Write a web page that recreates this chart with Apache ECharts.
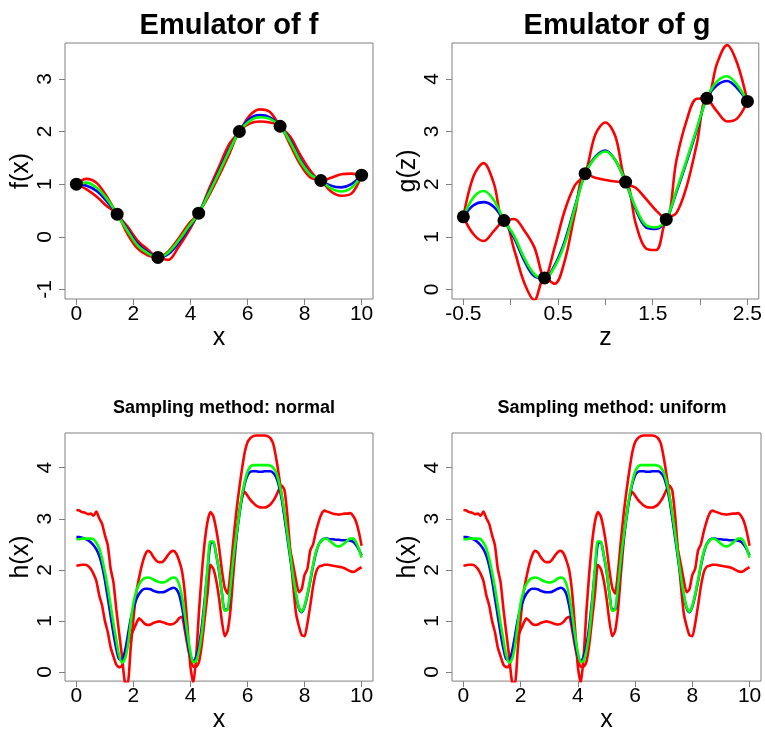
<!DOCTYPE html>
<html>
<head>
<meta charset="utf-8">
<script src="https://cdn.jsdelivr.net/npm/echarts@6/dist/echarts.min.js"></script>
<style>
  html, body { margin: 0; padding: 0; background: #fff; }
  #chart { width: 765px; height: 734px; }
</style>
</head>
<body>
<div id="chart"></div>
<script>
// ---- Emulator of f ----
const fX = [0, 0.357, 0.714, 1.071, 1.429, 1.786, 2.143, 2.5, 2.857, 3.214, 3.571, 3.929, 4.286, 4.643, 5, 5.357, 5.714, 6.071, 6.429, 6.786, 7.143, 7.5, 7.857, 8.214, 8.571, 8.929, 9.286, 9.643, 10];
const fTrue  = [1.00, 1.03, 0.93, 0.72, 0.43, 0.12, -0.16, -0.31, -0.39, -0.30, -0.08, 0.19, 0.45, 0.82, 1.22, 1.63, 2.00, 2.20, 2.27, 2.24, 2.10, 1.80, 1.43, 1.18, 1.07, 0.92, 0.86, 0.93, 1.17];
const fMean  = [1.00, 0.97, 0.87, 0.67, 0.43, 0.15, -0.13, -0.29, -0.39, -0.33, -0.12, 0.16, 0.45, 0.84, 1.25, 1.66, 2.00, 2.24, 2.31, 2.27, 2.10, 1.83, 1.46, 1.19, 1.07, 0.97, 0.94, 1.00, 1.17];
const fUpper = [1.00, 1.10, 1.02, 0.76, 0.43, 0.20, -0.07, -0.24, -0.39, -0.28, -0.04, 0.24, 0.45, 0.90, 1.33, 1.76, 2.00, 2.30, 2.42, 2.37, 2.10, 1.90, 1.55, 1.25, 1.07, 1.12, 1.19, 1.20, 1.17];
const fLower = [1.00, 0.90, 0.76, 0.58, 0.43, 0.06, -0.22, -0.35, -0.39, -0.44, -0.20, 0.10, 0.45, 0.78, 1.16, 1.57, 2.00, 2.15, 2.19, 2.17, 2.10, 1.74, 1.37, 1.12, 1.07, 0.86, 0.78, 0.82, 1.17];
const fRunsX = [0, 1.429, 2.857, 4.286, 5.714, 7.143, 8.571, 10];
const fRunsY = [1.00, 0.43, -0.39, 0.45, 2.00, 2.10, 1.07, 1.17];

// ---- Emulator of g ----
const gZ = [-0.5, -0.393, -0.286, -0.179, -0.071, 0.036, 0.143, 0.25, 0.357, 0.464, 0.571, 0.679, 0.786, 0.893, 1, 1.107, 1.214, 1.321, 1.429, 1.536, 1.643, 1.75, 1.857, 1.964, 2.071, 2.179, 2.286, 2.393, 2.5];
const gTrue  = [1.38, 1.75, 1.87, 1.70, 1.31, 1.02, 0.60, 0.29, 0.20, 0.43, 0.87, 1.55, 2.20, 2.50, 2.62, 2.45, 2.04, 1.55, 1.22, 1.18, 1.33, 1.88, 2.45, 3.05, 3.63, 3.95, 4.05, 3.88, 3.57];
const gMean  = [1.38, 1.60, 1.66, 1.57, 1.31, 0.98, 0.55, 0.25, 0.21, 0.46, 0.92, 1.58, 2.20, 2.52, 2.64, 2.45, 2.04, 1.52, 1.18, 1.15, 1.33, 1.85, 2.42, 3.02, 3.63, 3.88, 3.96, 3.82, 3.57];
const gUpper = [1.38, 2.15, 2.40, 2.02, 1.31, 1.34, 1.12, 0.80, 0.22, 0.80, 1.50, 1.98, 2.20, 2.94, 3.17, 2.90, 2.04, 1.93, 1.72, 1.50, 1.33, 2.45, 3.20, 3.62, 3.63, 4.29, 4.64, 4.29, 3.57];
const gLower = [1.38, 1.05, 0.92, 1.11, 1.31, 0.76, 0.13, -0.20, 0.22, 0.11, 0.55, 1.45, 2.20, 2.12, 2.08, 2.05, 2.04, 1.25, 0.78, 0.75, 1.33, 1.45, 1.95, 2.75, 3.63, 3.38, 3.19, 3.25, 3.57];
const gRunsZ = [-0.5, -0.071, 0.357, 0.786, 1.214, 1.643, 2.071, 2.5];
const gRunsY = [1.38, 1.31, 0.22, 2.20, 2.04, 1.33, 3.63, 3.57];

// ---- Composite h(x) = g(f(x)), Monte Carlo summary ----
const hX = [0, 0.1, 0.2, 0.3, 0.4, 0.5, 0.6, 0.7, 0.8, 0.9,
            1, 1.1, 1.2, 1.3, 1.4, 1.5, 1.6, 1.7, 1.8, 1.9,
            2, 2.1, 2.2, 2.3, 2.4, 2.5, 2.6, 2.7, 2.8, 2.9,
            3, 3.1, 3.2, 3.3, 3.4, 3.5, 3.6, 3.7, 3.8, 3.9,
            4, 4.1, 4.2, 4.3, 4.4, 4.5, 4.6, 4.7, 4.8, 4.9,
            5, 5.1, 5.2, 5.3, 5.4, 5.5, 5.6, 5.7, 5.8, 5.9,
            6, 6.1, 6.2, 6.3, 6.4, 6.5, 6.6, 6.7, 6.8, 6.9,
            7, 7.1, 7.2, 7.3, 7.4, 7.5, 7.6, 7.7, 7.8, 7.9,
            8, 8.1, 8.2, 8.3, 8.4, 8.5, 8.6, 8.7, 8.8, 8.9,
            9, 9.1, 9.2, 9.3, 9.4, 9.5, 9.6, 9.7, 9.8, 9.9, 10];
const hTrue = [2.60, 2.60, 2.61, 2.61, 2.61, 2.61, 2.60, 2.53, 2.42, 2.22,
               1.95, 1.65, 1.30, 0.95, 0.62, 0.32, 0.18, 0.25, 0.50, 0.95,
               1.35, 1.58, 1.72, 1.80, 1.84, 1.85, 1.84, 1.81, 1.78, 1.76,
               1.75, 1.76, 1.79, 1.83, 1.85, 1.83, 1.72, 1.48, 1.12, 0.72,
               0.38, 0.19, 0.22, 0.42, 0.78, 1.35, 2.05, 2.56, 2.55, 2.30,
               2.00, 1.55, 1.20, 1.22, 1.65, 2.20, 2.65, 3.05, 3.45, 3.72,
               3.92, 4.02, 4.05, 4.05, 4.05, 4.05, 4.05, 4.05, 4.04, 4.00,
               3.91, 3.72, 3.45, 3.10, 2.70, 2.28, 1.87, 1.52, 1.27, 1.18,
               1.30, 1.52, 1.80, 2.10, 2.35, 2.50, 2.57, 2.61, 2.60, 2.56,
               2.51, 2.47, 2.46, 2.48, 2.52, 2.57, 2.61, 2.61, 2.55, 2.42, 2.24];
const hMean = [2.64, 2.64, 2.63, 2.61, 2.58, 2.54, 2.48, 2.40, 2.28, 2.08,
               1.80, 1.45, 1.10, 0.75, 0.45, 0.25, 0.24, 0.40, 0.70, 1.02,
               1.25, 1.42, 1.53, 1.60, 1.63, 1.63, 1.62, 1.59, 1.57, 1.56,
               1.56, 1.57, 1.60, 1.63, 1.65, 1.62, 1.52, 1.28, 0.95, 0.60,
               0.32, 0.22, 0.30, 0.52, 0.90, 1.42, 2.00, 2.52, 2.54, 2.30,
               1.98, 1.55, 1.22, 1.22, 1.62, 2.15, 2.62, 3.02, 3.40, 3.68,
               3.85, 3.92, 3.93, 3.93, 3.92, 3.92, 3.93, 3.93, 3.93, 3.90,
               3.82, 3.65, 3.38, 3.02, 2.62, 2.22, 1.85, 1.50, 1.25, 1.17,
               1.28, 1.50, 1.78, 2.08, 2.33, 2.50, 2.58, 2.61, 2.61, 2.60,
               2.60, 2.59, 2.59, 2.58, 2.58, 2.58, 2.57, 2.55, 2.49, 2.40, 2.28];
const hBandA = [3.17, 3.16, 3.13, 3.12, 3.09, 3.10, 3.06, 3.14, 3.01, 2.90,
                2.68, 2.48, 2.02, 1.75, 1.22, 0.75, 0.30, -0.20, -0.22, 0.45,
                1.05, 1.55, 1.85, 2.10, 2.28, 2.37, 2.34, 2.25, 2.18, 2.15,
                2.15, 2.20, 2.28, 2.35, 2.37, 2.32, 2.18, 1.98, 1.55, 0.85,
                0.10, -0.22, 0.30, 1.20, 1.95, 2.55, 2.95, 3.13, 3.05, 2.80,
                2.45, 2.00, 1.65, 1.53, 1.95, 2.55, 3.10, 3.55, 3.95, 4.30,
                4.50, 4.58, 4.62, 4.63, 4.63, 4.63, 4.63, 4.62, 4.58, 4.47,
                4.20, 3.85, 3.45, 3.05, 2.70, 2.38, 2.10, 1.80, 1.56, 1.62,
                1.90, 2.02, 2.38, 2.50, 2.75, 2.95, 3.10, 3.16, 3.14, 3.12,
                3.10, 3.09, 3.08, 3.09, 3.10, 3.10, 3.11, 3.06, 2.95, 2.75, 2.47];
const hBandB = [2.08, 2.09, 2.10, 2.10, 2.08, 2.02, 1.92, 1.78, 1.50, 1.30,
                1.00, 0.78, 0.48, 0.30, 0.14, 0.09, 0.12, 0.35, 0.55, 0.70,
                0.82, 0.95, 1.05, 1.00, 0.94, 0.92, 0.93, 0.96, 0.98, 0.99,
                0.98, 0.96, 0.94, 0.93, 0.94, 0.98, 1.05, 1.08, 0.82, 0.50,
                0.25, 0.10, 0.10, 0.20, 0.55, 1.05, 1.55, 2.10, 2.02, 1.80,
                1.45, 1.00, 0.70, 0.80, 1.20, 1.90, 2.55, 3.10, 3.40, 3.53,
                3.45, 3.37, 3.31, 3.26, 3.23, 3.22, 3.22, 3.24, 3.28, 3.35,
                3.45, 3.57, 3.65, 3.55, 3.05, 2.35, 1.70, 1.15, 0.90, 0.72,
                0.70, 0.95, 1.30, 1.68, 1.95, 2.06, 2.08, 2.10, 2.10, 2.09,
                2.08, 2.07, 2.06, 2.05, 2.03, 2.00, 1.97, 1.96, 1.98, 2.02, 2.05];

const xTicks10 = [0, 2, 4, 6, 8, 10];
const zTicks = [-0.5, 0, 0.5, 1, 1.5, 2, 2.5];
const zLabels = [-0.5, 0.5, 1.5, 2.5];
const fTicks = [-1, 0, 1, 2, 3];
const hTicks = [0, 1, 2, 3, 4];

const FONT = '"Liberation Sans", Arial, Helvetica, sans-serif';
const RED = '#ff0000', BLUE = '#0000ff', GREEN = '#00ff00';

const zip = (xs, ys) => xs.map((x, i) => [x, ys[i]]);

const grids = [
  { left: 65,  top: 43,  width: 308, height: 256 },
  { left: 452, top: 43,  width: 310, height: 256 },
  { left: 65,  top: 433, width: 308, height: 257 },
  { left: 452, top: 433, width: 309, height: 257 }
].map(g => Object.assign({ show: true, borderColor: '#808080', borderWidth: 1, backgroundColor: 'transparent' }, g));

function xAxis(idx, name, min, max, ticks, labels) {
  return {
    type: 'value', gridIndex: idx, min: min, max: max,
    name: name, nameLocation: 'middle', nameGap: 22,
    nameTextStyle: { fontFamily: FONT, fontSize: 25, color: '#000' },
    axisLine: { show: false, onZero: false },
    axisTick: { show: true, length: 6, customValues: ticks, lineStyle: { color: '#808080', width: 1 } },
    axisLabel: { customValues: labels, fontFamily: FONT, fontSize: 21, color: '#000', margin: 5, showMinLabel: true, showMaxLabel: true },
    splitLine: { show: false }
  };
}
function yAxis(idx, name, min, max, ticks) {
  return {
    type: 'value', gridIndex: idx, min: min, max: max,
    name: name, nameLocation: 'middle', nameGap: 25,
    nameTextStyle: { fontFamily: FONT, fontSize: 25, color: '#000' },
    axisLine: { show: false, onZero: false },
    axisTick: { show: true, length: 6, customValues: ticks, lineStyle: { color: '#808080', width: 1 } },
    axisLabel: { customValues: ticks, rotate: 90, fontFamily: FONT, fontSize: 21, color: '#000', margin: 9 },
    splitLine: { show: false }
  };
}

function curve(idx, xs, ys, color, smooth) {
  return {
    type: 'line', xAxisIndex: idx, yAxisIndex: idx, data: zip(xs, ys),
    showSymbol: false, smooth: smooth, clip: true, silent: true,
    lineStyle: { color: color, width: 2.6 }
  };
}
function runs(idx, xs, ys) {
  return {
    type: 'scatter', xAxisIndex: idx, yAxisIndex: idx, data: zip(xs, ys),
    symbol: 'circle', symbolSize: 13, itemStyle: { color: '#000', opacity: 1 }, silent: true, z: 5
  };
}
function hPanel(idx) {
  return [
    curve(idx, hX, hBandA, RED, 0.2), curve(idx, hX, hBandB, RED, 0.2),
    curve(idx, hX, hMean, BLUE, 0.3), curve(idx, hX, hTrue, GREEN, 0.3)
  ];
}

const titleFont = (size) => ({ fontFamily: FONT, fontSize: size, fontWeight: 'bold', color: '#000' });

const option = {
  animation: false,
  backgroundColor: '#fff',
  title: [
    { text: 'Emulator of f', left: 224, top: 6, textAlign: 'center', textStyle: titleFont(29) },
    { text: 'Emulator of g', left: 612, top: 6, textAlign: 'center', textStyle: titleFont(29) },
    { text: 'Sampling method: normal', left: 219, top: 394, textAlign: 'center', textStyle: titleFont(18) },
    { text: 'Sampling method: uniform', left: 607, top: 394, textAlign: 'center', textStyle: titleFont(18) }
  ],
  grid: grids,
  xAxis: [
    xAxis(0, 'x', -0.4, 10.4, xTicks10, xTicks10),
    xAxis(1, 'z', -0.62, 2.62, zTicks, zLabels),
    xAxis(2, 'x', -0.4, 10.4, xTicks10, xTicks10),
    xAxis(3, 'x', -0.4, 10.4, xTicks10, xTicks10)
  ],
  yAxis: [
    yAxis(0, 'f(x)', -1.18, 3.68, fTicks),
    yAxis(1, 'g(z)', -0.18, 4.68, hTicks),
    yAxis(2, 'h(x)', -0.18, 4.68, hTicks),
    yAxis(3, 'h(x)', -0.18, 4.68, hTicks)
  ],
  series: [].concat(
    [curve(0, fX, fUpper, RED, 0.35), curve(0, fX, fLower, RED, 0.35), curve(0, fX, fMean, BLUE, 0.35), curve(0, fX, fTrue, GREEN, 0.35), runs(0, fRunsX, fRunsY)],
    [curve(1, gZ, gUpper, RED, 0.35), curve(1, gZ, gLower, RED, 0.35), curve(1, gZ, gMean, BLUE, 0.35), curve(1, gZ, gTrue, GREEN, 0.35), runs(1, gRunsZ, gRunsY)],
    hPanel(2),
    hPanel(3)
  )
};

const chart = echarts.init(document.getElementById('chart'), null, { renderer: 'canvas' });
chart.setOption(option);
</script>
</body>
</html>
